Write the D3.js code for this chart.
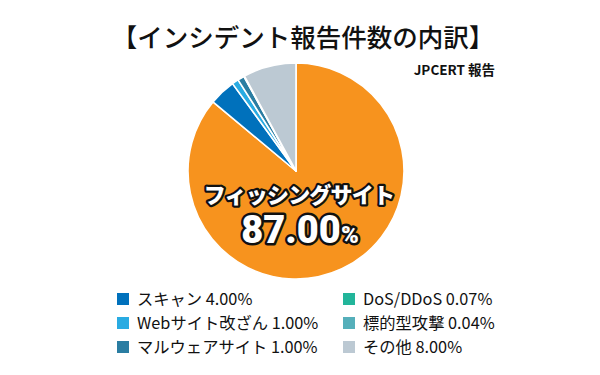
<!DOCTYPE html>
<html>
<head>
<meta charset="utf-8">
<script src="https://cdn.jsdelivr.net/npm/d3@7"></script>
<style>
  body { margin: 0; background: #fff; }
  svg { display: block; font-family: "Noto Sans CJK JP", "Noto Sans", sans-serif; }
</style>
</head>
<body>
<div id="wrapper"></div>
<script>
const categories = ["フィッシングサイト", "スキャン", "Webサイト改ざん", "マルウェアサイト", "DoS/DDoS", "標的型攻撃", "その他"]
const values = [87.00, 4.00, 1.00, 1.00, 0.07, 0.04, 8.00]
const colors = ["#f7931e", "#0071bc", "#29abe2", "#2a7da2", "#22b59a", "#55afba", "#bcc9d3"]
const legendOrder = [1, 2, 3, 4, 5, 6]

function drawPie() {
    const dimensions = {width: 600, height: 375, cx: 296, cy: 171, radius: 108}
    const svg = d3.select("#wrapper").append("svg")
        .attr("width", dimensions.width)
        .attr("height", dimensions.height)

    svg.append("text")
        .attr("x", 303).attr("y", 47)
        .attr("text-anchor", "middle")
        .attr("font-size", 25.5).attr("font-weight", 500)
        .attr("fill", "#111")
        .text("【インシデント報告件数の内訳】")

    svg.append("text")
        .attr("x", 495).attr("y", 75)
        .attr("text-anchor", "end")
        .attr("font-size", 13.5).attr("font-weight", 700)
        .attr("fill", "#111")
        .text("JPCERT 報告")

    const dataset = categories.map((c, i) => ({name: c, value: values[i], color: colors[i]}))
    const pie = d3.pie().sort(null).value(d => d.value)
    const arc = d3.arc().innerRadius(0).outerRadius(dimensions.radius)

    const g = svg.append("g")
        .attr("transform", `translate(${dimensions.cx},${dimensions.cy})`)
    g.selectAll("path")
        .data(pie(dataset))
        .join("path")
        .attr("d", arc)
        .attr("fill", d => d.data.color)
        .attr("stroke", "#fff")
        .attr("stroke-width", 1.6)
        .attr("stroke-linejoin", "round")

    // label on the big slice
    const label = svg.append("g").attr("font-weight", 900)
    label.append("text")
        .attr("x", 299).attr("y", 203)
        .attr("text-anchor", "middle")
        .attr("font-size", 22).attr("letter-spacing", -0.8)
        .attr("fill", "#fff").attr("stroke", "#111").attr("stroke-width", 4.5)
        .attr("stroke-linejoin", "round").attr("paint-order", "stroke")
        .text(categories[0])
    const pct = label.append("text")
        .attr("x", 300).attr("y", 243)
        .attr("text-anchor", "middle")
        .attr("fill", "#fff").attr("stroke", "#111").attr("stroke-width", 5)
        .attr("stroke-linejoin", "round").attr("paint-order", "stroke")
        .attr("font-family", "Roboto, 'Noto Sans', sans-serif")
    pct.append("tspan").attr("font-size", 38).text(values[0].toFixed(2))
    pct.append("tspan").attr("font-size", 24).text("%")

    // legend
    const legend = svg.append("g")
    legendOrder.forEach((idx, k) => {
        const col = Math.floor(k / 3), row = k % 3
        const x = col === 0 ? 117 : 343
        const y = 299 + row * 24
        legend.append("rect")
            .attr("x", x).attr("y", y - 6)
            .attr("width", 12).attr("height", 12)
            .attr("fill", colors[idx])
        legend.append("text")
            .attr("x", x + 20).attr("y", y + 6)
            .attr("font-size", 16.3)
            .attr("fill", "#111")
            .text(`${categories[idx]} ${values[idx].toFixed(2)}%`)
    })
}

drawPie()
</script>
</body>
</html>
